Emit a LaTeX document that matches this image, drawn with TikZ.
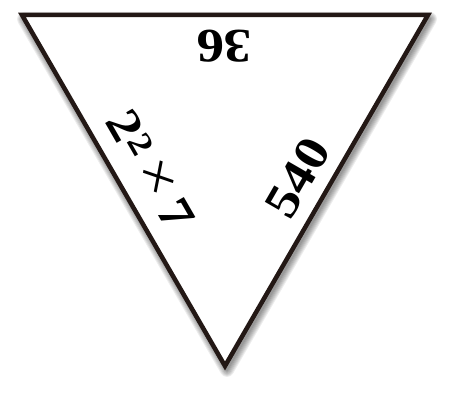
\documentclass[tikz,border=0pt]{standalone}
\usepackage{fontspec}
\setmainfont{Liberation Serif}
\definecolor{edgeink}{HTML}{231815}

\begin{document}
\begin{tikzpicture}[x=1pt, y=-1pt,
  sidelabel/.style={font=\fontsize{48}{48}\selectfont\bfseries, inner sep=0pt}]
\useasboundingbox (0,0) rectangle (449,401);
\coordinate (topleft) at (22,15);
\coordinate (topright) at (428,15);
\coordinate (bottom) at (225,366);
\foreach \spread in {2,4,...,14}
  \draw[black, opacity=0.07, line width=\spread pt, line join=round,
    transform canvas={shift={(2pt,-4pt)}}]
    (topleft) -- (topright) -- (bottom) -- cycle;
\draw[edgeink, line width=4.5pt, line join=miter, fill=white]
  (topleft) -- (topright) -- (bottom) -- cycle;
\node[sidelabel, rotate=180, xscale=1.15] (topside) at (224,46) {36};
\node[sidelabel, rotate=-60, xscale=1.15] (leftside) at (151,170) {2\textsuperscript{2}\,{\mdseries\fontsize{56}{56}\selectfont ×}\,7};
\node[sidelabel, rotate=60, xscale=1.15] (rightside) at (298,178) {540};
\end{tikzpicture}
\end{document}
